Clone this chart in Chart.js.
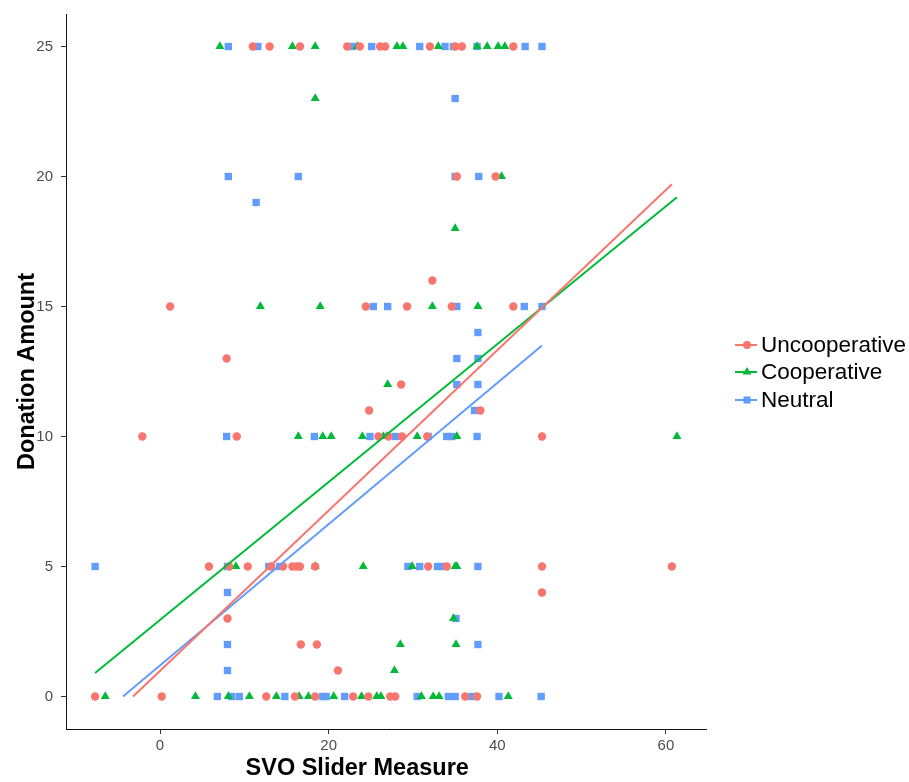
<!DOCTYPE html>
<html>
<head>
<meta charset="utf-8">
<script src="https://cdn.jsdelivr.net/npm/chart.js@4/dist/chart.umd.min.js"></script>
<style>
  html, body { margin: 0; padding: 0; background: #fff; }
  #wrap { position: relative; width: 909px; height: 782px; }
  #legend { position: absolute; left: 733px; top: 331px; font-family: "Liberation Sans", Arial, sans-serif; font-size: 22.5px; color: #000; }
  #legend div { height: 27.5px; display: flex; align-items: center; white-space: nowrap; }
  #legend svg { margin-right: 2px; }
</style>
</head>
<body>
<div id="wrap">
  <canvas id="grafica" width="909" height="782"></canvas>
  <div id="legend"></div>
</div>
<script>
  // groups and axis ticks
  const groups = ['Uncooperative', 'Cooperative', 'Neutral'];
  const xTicks = [0, 20, 40, 60];
  const yTicks = [0, 5, 10, 15, 20, 25];
  const xTitle = 'SVO Slider Measure';
  const yTitle = 'Donation Amount';

  // Uncooperative points (one line per donation level)
  const uncoopX = [
    11.0, 13.0, 16.6, 22.2, 23.7, 26.1, 26.7, 32.0, 35.0, 35.8, 41.9,
    35.2, 39.8,
    32.3,
    1.2, 24.4, 29.3, 34.6, 41.9,
    7.9,
    28.6,
    24.8, 38.0,
    -2.1, 9.1, 25.9, 27.1, 28.7, 31.7, 45.3,
    5.8, 8.2, 10.4, 13.2, 14.6, 15.7, 16.2, 16.6, 18.4, 31.8, 34.0, 45.3, 60.7,
    45.3,
    8.0,
    16.7, 18.6,
    21.1,
    -7.7, 0.2, 12.6, 16.0, 18.4, 22.9, 24.7, 27.3, 27.9, 36.2, 37.6
  ];
  const uncoopY = [
    25, 25, 25, 25, 25, 25, 25, 25, 25, 25, 25,
    20, 20,
    16,
    15, 15, 15, 15, 15,
    13,
    12,
    11, 11,
    10, 10, 10, 10, 10, 10, 10,
    5, 5, 5, 5, 5, 5, 5, 5, 5, 5, 5, 5, 5,
    4,
    3,
    2, 2,
    1,
    0, 0, 0, 0, 0, 0, 0, 0, 0, 0, 0
  ];

  // Cooperative points
  const coopX = [
    7.1, 15.7, 18.4, 23.4, 28.1, 28.8, 33.0, 37.6, 38.8, 40.1, 40.9,
    18.4,
    40.5,
    35.0,
    11.9, 19.0, 32.3, 37.7,
    27.0,
    16.4, 19.3, 20.3, 24.0, 26.5, 26.9, 30.5, 35.2, 61.3,
    9.0, 18.4, 24.1, 29.9, 35.0, 35.2,
    34.8,
    28.5, 35.1,
    27.8,
    -6.5, 4.2, 8.1, 10.6, 13.8, 16.5, 17.6, 20.6, 23.9, 25.7, 26.2, 31.0, 32.4, 33.1, 41.3
  ];
  const coopY = [
    25, 25, 25, 25, 25, 25, 25, 25, 25, 25, 25,
    23,
    20,
    18,
    15, 15, 15, 15,
    12,
    10, 10, 10, 10, 10, 10, 10, 10, 10,
    5, 5, 5, 5, 5, 5,
    3,
    2, 2,
    1,
    0, 0, 0, 0, 0, 0, 0, 0, 0, 0, 0, 0, 0, 0, 0
  ];

  // Neutral points
  const neutralX = [
    8.1, 11.6, 22.8, 25.1, 30.8, 33.8, 34.8, 37.6, 43.3, 45.3,
    35.0,
    8.1, 16.4, 35.0, 37.8,
    11.4,
    25.3, 27.0, 35.2, 43.2, 45.3,
    37.7,
    35.2, 37.7,
    35.2, 37.7,
    37.3,
    7.9, 18.3, 24.9, 27.9, 31.8, 34.0, 34.6, 37.6,
    -7.7, 8.0, 12.9, 14.2, 16.4, 29.4, 30.8, 32.9, 33.4, 37.7,
    8.0,
    35.1,
    8.0, 37.7,
    8.0,
    6.8, 8.5, 9.4, 14.8, 19.3, 19.7, 21.9, 30.5, 34.2, 35.0, 37.0, 40.2, 45.2
  ];
  const neutralY = [
    25, 25, 25, 25, 25, 25, 25, 25, 25, 25,
    23,
    20, 20, 20, 20,
    19,
    15, 15, 15, 15, 15,
    14,
    13, 13,
    12, 12,
    11,
    10, 10, 10, 10, 10, 10, 10, 10,
    5, 5, 5, 5, 5, 5, 5, 5, 5, 5,
    4,
    3,
    2, 2,
    1,
    0, 0, 0, 0, 0, 0, 0, 0, 0, 0, 0, 0, 0
  ];

  // linear fit end points per group
  const uncoopFitX = [-3.2, 60.7];
  const uncoopFitY = [0, 19.7];
  const coopFitX = [-7.7, 61.3];
  const coopFitY = [0.9, 19.2];
  const neutralFitX = [-4.4, 45.3];
  const neutralFitY = [0, 13.5];

  const RED = '#F8766D', GREEN = '#00BA38', BLUE = '#619CFF';
  const FONT = '"Liberation Sans", Arial, sans-serif';
  Chart.defaults.font.family = FONT;

  const pts = (xs, ys) => xs.map((x, i) => ({ x: x, y: ys[i] }));
  const fitLine = (xs, ys, color, name) => ({
    label: name + ' fit', data: pts(xs, ys), showLine: true, fill: false,
    borderColor: color, borderWidth: 2, pointRadius: 0, order: 0
  });
  const scatter = (xs, ys, color, style, r, name) => ({
    label: name, data: pts(xs, ys), pointStyle: style, pointRadius: r,
    backgroundColor: color, borderColor: color, borderWidth: 0, order: 1
  });

  const axisCommon = {
    type: 'linear',
    grid: { drawOnChartArea: false, drawTicks: true, tickLength: 5, color: '#333', tickColor: '#333' },
    border: { display: true, color: '#111', width: 1 },
  };

  // x axis title sits a little left of the panel centre in the original
  const xTitlePlugin = {
    id: 'xTitle',
    afterDraw(chart) {
      const ctx = chart.ctx;
      const area = chart.chartArea;
      ctx.save();
      ctx.font = 'bold 23.5px ' + FONT;
      ctx.fillStyle = '#000';
      ctx.textAlign = 'center';
      ctx.textBaseline = 'middle';
      ctx.fillText(xTitle, area.left + (area.right - area.left) * 0.455, 769);
      ctx.restore();
    }
  };

  const myChart = new Chart(document.getElementById('grafica'), {
    type: 'scatter',
    data: {
      datasets: [
        fitLine(uncoopFitX, uncoopFitY, RED, groups[0]),
        fitLine(coopFitX, coopFitY, GREEN, groups[1]),
        fitLine(neutralFitX, neutralFitY, BLUE, groups[2]),
        scatter(uncoopX, uncoopY, RED, 'circle', 4.2, groups[0]),
        scatter(coopX, coopY, GREEN, 'triangle', 5.2, groups[1]),
        scatter(neutralX, neutralY, BLUE, 'rect', 5.2, groups[2]),
      ],
    },
    plugins: [xTitlePlugin],
    options: {
      responsive: false,
      animation: false,
      devicePixelRatio: 1,
      layout: { padding: { left: 0, right: 203, top: 14, bottom: 0 } },
      plugins: { legend: { display: false }, tooltip: { enabled: false } },
      scales: {
        x: {
          ...axisCommon,
          min: -11.15, max: 64.75,
          afterBuildTicks: s => { s.ticks = xTicks.map(v => ({ value: v })); },
          afterFit: s => { s.height = 53; s.paddingLeft = 0; s.paddingRight = 0; },
          ticks: { color: '#4d4d4d', font: { size: 15 }, padding: 3 },
          title: { display: false, text: xTitle },
        },
        y: {
          ...axisCommon,
          min: -1.25, max: 26.25,
          afterBuildTicks: s => { s.ticks = yTicks.map(v => ({ value: v })); },
          afterFit: s => { s.width = 66; s.paddingTop = 0; s.paddingBottom = 0; },
          ticks: { color: '#4d4d4d', font: { size: 15 }, padding: 8 },
          title: { display: true, text: yTitle, color: '#000', font: { size: 23.5, weight: 'bold' }, padding: { top: 13, bottom: 0 } },
        },
      },
    },
  });

  // legend (line + marker key like the original)
  const legendDiv = document.getElementById('legend');
  const keyColors = [RED, GREEN, BLUE];
  const keyShapes = [
    '<circle cx="14" cy="10" r="4" fill="C"/>',
    '<polygon points="14,5 18.5,12.5 9.5,12.5" fill="C"/>',
    '<rect x="10.5" y="6.5" width="7" height="7" fill="C"/>',
  ];
  groups.forEach((g, i) => {
    const div = document.createElement('div');
    div.innerHTML = '<svg width="26" height="20"><line x1="2" y1="10" x2="24" y2="10" stroke="' + keyColors[i] + '" stroke-width="2"/>' +
      keyShapes[i].replace('C', keyColors[i]) + '</svg><span>' + g + '</span>';
    legendDiv.appendChild(div);
  });
</script>
</body>
</html>
